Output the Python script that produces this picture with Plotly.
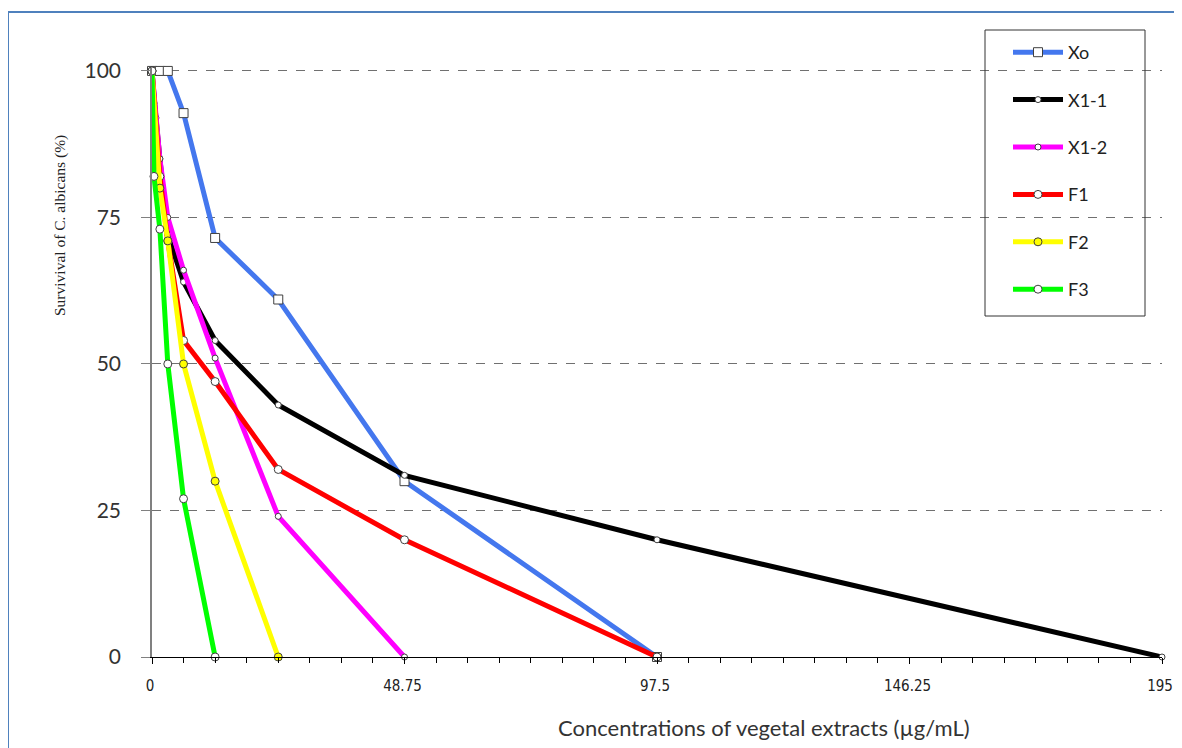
import plotly.graph_objects as go

# ---- data ----
xo_x = [0, 1.52, 3.05, 6.09, 12.19, 24.375, 48.75, 97.5]
xo_y = [100, 100, 100, 92.8, 71.5, 61, 30, 0]

x11_x = [0, 0.38, 0.76, 1.52, 3.05, 6.09, 12.19, 24.375, 48.75, 97.5, 195]
x11_y = [100, 94.5, 92, 85, 72, 64, 54, 43, 31, 20, 0]

x12_x = [0, 1.52, 3.05, 6.09, 12.19, 24.375, 48.75]
x12_y = [100, 85, 75, 66, 51, 24, 0]

f1_x = [0, 1.52, 3.05, 6.09, 12.19, 24.375, 48.75, 97.5]
f1_y = [100, 82, 71, 54, 47, 32, 20, 0]

f2_x = [0, 1.52, 3.05, 6.09, 12.19, 24.375]
f2_y = [100, 80, 71, 50, 30, 0]

f3_x = [0, 0.38, 1.52, 3.05, 6.09, 12.19]
f3_y = [100, 82, 73, 50, 27, 0]

x_ticks = [0, 48.75, 97.5, 146.25, 195]
x_ticktext = ["0", "48.75", "97.5", "146.25", "195"]
y_ticks = [0, 25, 50, 75, 100]

series = [
    ("Xo", xo_x, xo_y, "#4477EE", "square", 9, "white"),
    ("X1-1", x11_x, x11_y, "#000000", "circle", 6, "white"),
    ("X1-2", x12_x, x12_y, "#FF00FF", "circle", 6, "white"),
    ("F1", f1_x, f1_y, "#FF0000", "circle", 8, "white"),
    ("F2", f2_x, f2_y, "#FFFF00", "circle", 8, "#FFFF00"),
    ("F3", f3_x, f3_y, "#00FF00", "circle", 8, "white"),
]

fig = go.Figure()
for i, (name, xs, ys, col, sym, sz, fill) in enumerate(series):
    fig.add_trace(go.Scatter(
        x=xs, y=ys, name=name, mode="lines+markers",
        line=dict(color=col, width=5),
        marker=dict(symbol=sym, size=sz, color=fill,
                    line=dict(color="#404040", width=1)),
        cliponaxis=False, legendgroup=f"g{i}",
    ))

# page body adds an 8px offset at top-left; figure fills to the window edge
OFF = 8
W, H = 1182 - OFF, 748 - OFF
L, T = 144, 60
R = W - L - 1010
B = H - (657 - OFF)
pw, ph = W - L - R, H - T - B

def px(xp):
    return (xp - OFF - L) / pw

def py(yp):
    return (H - B - (yp - OFF)) / ph

border_path = "M {x0},{y1} L {x0},{y0} L {x1},{y0}".format(
    x0=px(8), y0=py(12), x1=px(1300), y1=py(900))

fig.update_layout(
    width=W, height=H,
    margin=dict(l=L, r=R, t=T, b=B, autoexpand=False),
    paper_bgcolor="white", plot_bgcolor="white",
    showlegend=True,
    legend=dict(
        x=px(1008), y=py(34), xanchor="left", yanchor="top",
        bgcolor="rgba(0,0,0,0)", borderwidth=0,
        font=dict(family="Lato, Open Sans, sans-serif", size=18, color="#222"),
        itemwidth=50, tracegroupgap=21, traceorder="grouped",
    ),
    xaxis=dict(
        range=[0, 195], showgrid=False, zeroline=False, automargin=False,
        showline=True, linecolor="black", linewidth=1,
        tickvals=x_ticks, ticktext=x_ticktext,
        ticks="outside", ticklen=6, tickcolor="black",
        minor=dict(dtick=6.09375, tick0=0, ticks="outside", ticklen=5,
                   tickcolor="black", showgrid=False),
        tickfont=dict(family="Liberation Sans Narrow, DejaVu Sans Condensed, sans-serif",
                      size=15, color="#222"),
        ticklabelstandoff=9,
        ticklabelshift=-2,
        ticklabeloverflow="allow",
    ),
    yaxis=dict(
        range=[0, 100.5], zeroline=False, automargin=False,
        showline=True, linecolor="#808080", linewidth=1.5,
        tickvals=y_ticks, ticks="outside", ticklen=9, tickcolor="#808080",
        showgrid=True, gridcolor="#707070", griddash="dash", gridwidth=1.2,
        tickfont=dict(family="Lato, Open Sans, sans-serif", size=21, color="#333"),
        ticklabelstandoff=16,
    ),
    shapes=[
        dict(type="path", xref="paper", yref="paper", path=border_path,
             line=dict(color="#4F81BD", width=2)),
        dict(type="rect", xref="paper", yref="paper",
             x0=px(985), x1=px(1145), y0=py(30), y1=py(316),
             line=dict(color="#333", width=1)),
    ],
    annotations=[
        dict(text="Survivival of C. albicans (%)", xref="paper", yref="paper",
             x=px(60), y=py(226), xanchor="center", yanchor="middle",
             showarrow=False, textangle=-90,
             font=dict(family="Liberation Serif, serif", size=15.5, color="#222")),
        dict(text="Concentrations of vegetal extracts (µg/mL)", xref="paper", yref="paper",
             x=px(764), y=py(727), xanchor="center", yanchor="middle",
             showarrow=False,
             font=dict(family="Lato, Open Sans, sans-serif", size=22, color="#333")),
    ],
)

fig.write_html("out.html")
